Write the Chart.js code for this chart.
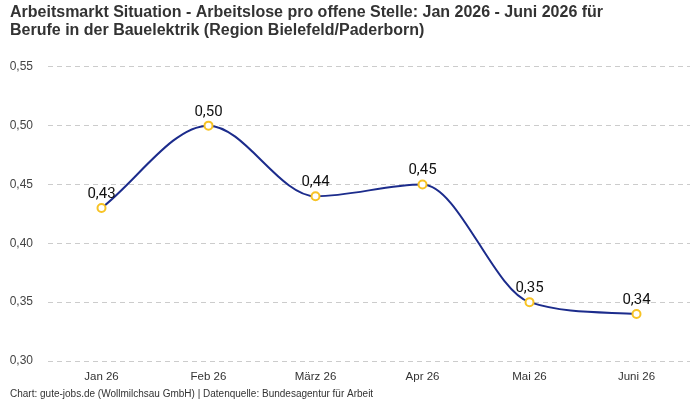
<!DOCTYPE html>
<html>
<head>
  <title>Arbeitsmarkt Situation</title>
  <script src="https://cdn.jsdelivr.net/npm/chart.js"></script>
  <style>
    html, body { margin: 0; padding: 0; background: #fff; }
    #wrap { width: 700px; height: 400px; }
  </style>
</head>
<body>
  <div id="wrap"><canvas id="lineChart"></canvas></div>

  <script>
    const monate = ['Jan 26', 'Feb 26', 'März 26', 'Apr 26', 'Mai 26', 'Juni 26'];
    const werte = [0.43, 0.50, 0.44, 0.45, 0.35, 0.34];

    const fmt = v => v.toFixed(2).replace('.', ',');

    // Werte über die Punkte schreiben
    const wertLabels = {
      id: 'wertLabels',
      afterDatasetsDraw(chart) {
        const ctx = chart.ctx;
        const meta = chart.getDatasetMeta(0);
        ctx.save();
        ctx.font = '15px Roboto';
        ctx.fillStyle = '#111';
        ctx.textAlign = 'center';
        ctx.textBaseline = 'alphabetic';
        meta.data.forEach((p, i) => {
          ctx.fillText(fmt(werte[i]), p.x, p.y - 10);
        });
        ctx.restore();
      }
    };

    new Chart(document.getElementById('lineChart'), {
      type: 'line',
      data: {
        labels: monate,
        datasets: [{
          data: werte,
          borderColor: '#1c2c8c',
          borderWidth: 2,
          cubicInterpolationMode: 'monotone',
          pointRadius: 4,
          pointBorderWidth: 2,
          pointBackgroundColor: '#fff',
          pointBorderColor: '#f7c325'
        }]
      },
      options: {
        responsive: true,
        maintainAspectRatio: false,
        animation: false,
        layout: { padding: { left: 10, right: 10, top: 0, bottom: 0 } },
        plugins: {
          legend: { display: false },
          tooltip: { enabled: false },
          title: {
            display: true,
            align: 'start',
            text: ['Arbeitsmarkt Situation - Arbeitslose pro offene Stelle: Jan 2026 - Juni 2026 für',
                   'Berufe in der Bauelektrik (Region Bielefeld/Paderborn)'],
            color: '#333',
            font: { family: '"Liberation Sans"', size: 16, weight: 'bold', lineHeight: 1.15 },
            padding: { top: 3, bottom: 27 }
          },
          subtitle: {
            display: true,
            position: 'bottom',
            align: 'start',
            text: 'Chart: gute-jobs.de (Wollmilchsau GmbH) | Datenquelle: Bundesagentur für Arbeit',
            color: '#333',
            font: { family: '"Liberation Sans"', size: 10 },
            padding: { top: 4, bottom: 0 }
          }
        },
        scales: {
          x: {
            offset: true,
            afterFit: axis => { axis.height = 23; },
            grid: { display: false, drawTicks: false },
            border: { display: false },
            ticks: { color: '#333', padding: 9, font: { family: '"Liberation Sans"', size: 11.5 } }
          },
          y: {
            min: 0.30,
            max: 0.55,
            afterFit: axis => { axis.width = 38; },
            ticks: {
              stepSize: 0.05,
              color: '#444',
              padding: 15,
              font: { family: '"Liberation Sans"', size: 12 },
              callback: v => fmt(v)
            },
            grid: { color: '#cccccc', drawTicks: false },
            border: { display: false, dash: [5, 4] }
          }
        }
      },
      plugins: [wertLabels]
    });
  </script>
</body>
</html>
